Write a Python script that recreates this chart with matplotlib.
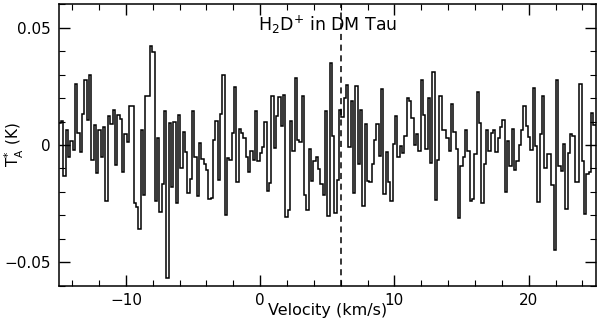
import numpy as np
import matplotlib
matplotlib.use("Agg")
import matplotlib.pyplot as plt
from matplotlib.ticker import MultipleLocator

# spectrum: H2D+ towards DM Tau, antenna temperature per channel (mK)
v_first = -15.0      # km/s, left edge of first channel
v_last = 25.0        # km/s, right edge of last channel
v_sys = 6.0          # systemic velocity, dashed marker

ta_mK = [
    # -15 .. -8.5
    9.4, 10.4, -13.4, 6.3, -5.3, 1.7, -2.3, 26, 5.2, -3, 13.4, 27.8, 10.8, 29.8,
    -6.3, 8.7, -12, 6.2, -5.3, 7.7, -23.9, 12.2, 9.1, 15, -8.4, 12.9, 11.1, -11.4,
    4.5, 1.3, 16.7, 16.7, -24.8, -26.4, -35.9, 6.3, -21.1, 21,
    # -8.5 .. -1.8
    21, 42, 39.7, -24, 3.1, -28.5, -16.5, 14.3, -56.5, 9.2, -17.7, 9.7, -24.5, 12.8,
    -9.8, 5.6, -2.8, -20.5, -14.5, 14.3, -4.9, -21.8, 0.7, -5.8, -7.9, -10.7, -22.9,
    -22.5, 2, 10.1, -14.9, 13.4, 29.8, -30, -5.4, -6.3, 5.2, 24.9, -15.6,
    # -1.8 .. 5
    7, 5, 3, -5, -11.7, -2.5, -6.5, 14.3, -7, -3.2, -0.7, 9.7, -19.4, -16.2, 21,
    -1.1, 12.5, 20.5, 8, 21.4, -30.7, -27.8, 10.1, -2.5, 28.4, 2.1, 1.4, 21, -21.5,
    -27.8, -1.6, -15.5, -7, -4.9, -10.3, -16.6, -21.5, 14.3,
    # 5 .. 11.7
    -30.4, 35, 3.8, -29, -14.8, 14.8, 12, 20, 25.7, -0.8, 18.6, -20.3, 25.3, -8,
    14.8, -26, 8.9, -15.2, -15.8, -8, 2, 8.9, -4.5, 24, -20.7, -3, -15.8, -24, 0.5,
    12.2, -5, -0.5, -3.5, 4, 20, 18.6, 11.6, 0,
    # 11.7 .. 18.4
    4.5, -2.5, 27.8, 12.7, -1.7, 20, -7.6, 31.2, -23.6, -6.3, 20.7, 6.6, 6.6, 3.1,
    -2.5, 17.4, 5.6, -1.6, -31, -9.1, -5.3, 6.6, -2.5, -23.9, -22.8, -3.7, 22.8, 9.4,
    -24.8, -8.2, 6.3, -2.5, 5.2, 6.2, -3, 3.1, 7.7, 10.5, -19.8,
    # 18.4 .. 25
    1.7, -8.9, 7, -10.7, -7, -0.1, 6.6, 16.7, 8, 3.4, -2.3, 24.5, -0.4, -24.3, 4.5,
    20.7, -10, -3.7, -3.7, -17, -44.7, 27.7, -9.1, -11, 0.3, -27.4, -3.2, 4.5, 4,
    -15.9, -15.9, 25.9, -6.8, -29.5, -12.2, -11.5, 13.6, 8.7,
]

x_ticks = [-10, 0, 10, 20]
y_ticks = [-0.05, 0, 0.05]
y_ticklabels = ["\u22120.05", "0", "0.05"]

ta = np.array(ta_mK) / 1000.0
edges = np.linspace(v_first, v_last, len(ta) + 1)

plt.rcParams["font.family"] = ["DejaVu Sans"]
fig = plt.figure(figsize=(6.0, 3.23), dpi=100)
ax = fig.add_axes([0.098, 0.115, 0.895, 0.872])

ax.stairs(ta, edges, color="black", lw=1.1, baseline=None)
ax.axvline(v_sys, color="black", lw=1.1, ls=(0, (4, 3)))

ax.set_xlim(v_first, v_last)
ax.set_ylim(-0.06, 0.06)
ax.set_xticks(x_ticks)
ax.set_xticklabels([("\u2212" + str(-t)) if t < 0 else str(t) for t in x_ticks])
ax.set_yticks(y_ticks)
ax.set_yticklabels(y_ticklabels)
ax.xaxis.set_minor_locator(MultipleLocator(2))
ax.yaxis.set_minor_locator(MultipleLocator(0.01))
ax.tick_params(which="both", direction="in", top=True, right=True, labelsize=11, colors="black")
ax.tick_params(which="major", length=8, width=1)
ax.tick_params(which="minor", length=4, width=0.8)
ax.tick_params(axis="x", pad=5)
ax.tick_params(axis="y", pad=6)
for s in ax.spines.values():
    s.set_linewidth(1.1)

ax.set_xlabel("Velocity (km/s)", fontsize=11.5)
ax.xaxis.set_label_coords(0.5, -0.06)
ax.set_ylabel(r"T$_\mathregular{A}^\mathregular{*}$ (K)", fontsize=11)
ax.yaxis.set_label_coords(-0.062, 0.5)
ax.text(0.5, 0.965, r"H$_\mathregular{2}$D$^\mathregular{+}$ in DM Tau", transform=ax.transAxes,
        ha="center", va="top", fontsize=12.5)

fig.savefig("out.png", dpi=100)
